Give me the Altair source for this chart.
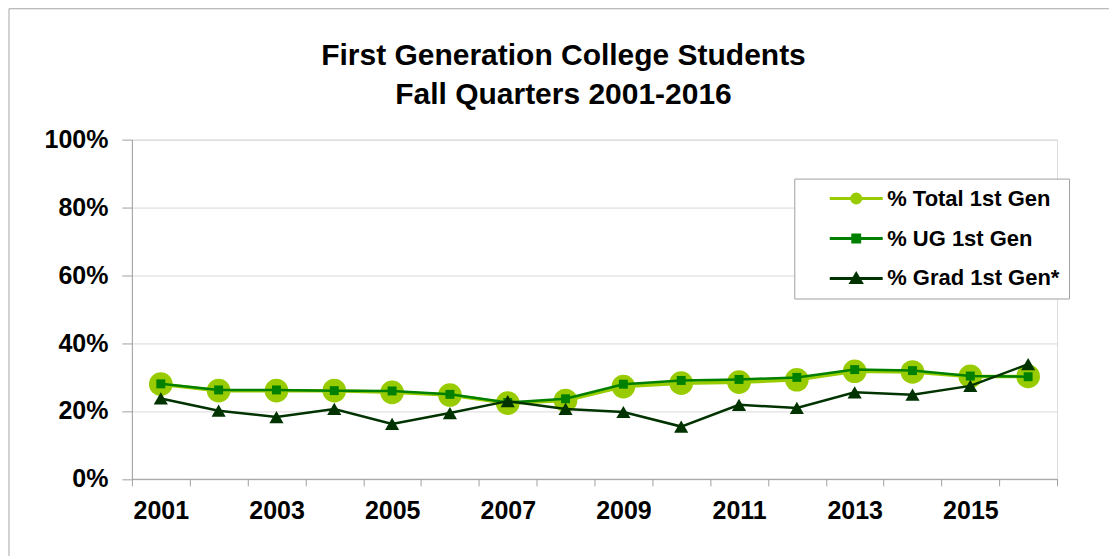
import altair as alt
import pandas as pd

years = list(range(2001, 2017))
total_pct = [27.9, 26.0, 26.0, 26.0, 25.5, 24.7, 22.3, 23.1, 27.2, 28.2, 28.5, 29.2, 31.7, 31.5, 30.2, 30.2]
ug_pct = [28.0, 26.2, 26.2, 26.0, 25.9, 24.9, 22.5, 23.6, 27.9, 29.0, 29.3, 29.9, 32.2, 31.9, 30.3, 30.1]
grad_pct = [23.7, 20.1, 18.2, 20.6, 16.2, 19.4, 22.9, 20.6, 19.7, 15.4, 21.8, 20.9, 25.5, 24.8, 27.4, 33.8]

series_names = ["% Total 1st Gen", "% UG 1st Gen", "% Grad 1st Gen*"]
series_colors = ["#99CC00", "#008000", "#003300"]
point_shapes = ["circle", "square", "triangle-up"]
point_sizes = [560, 80, 200]
line_widths = [3.5, 2.5, 2.5]
legend_paths = [
    "M-1,0L1,0M-0.17,0A0.17,0.17,0,1,0,0.17,0A0.17,0.17,0,1,0,-0.17,0Z",
    "M-1,0L1,0M-0.13,-0.13L0.13,-0.13L0.13,0.13L-0.13,0.13Z",
    "M-1,0L1,0M0,-0.17L0.19,0.15L-0.19,0.15Z",
]
label_years = [2001, 2003, 2005, 2007, 2009, 2011, 2013, 2015]
x_tick_values = [y - 0.5 for y in years] + [years[-1] + 0.5]
y_tick_values = [0, 0.2, 0.4, 0.6, 0.8, 1.0]
title_lines = ["First Generation College Students", "Fall Quarters 2001-2016"]

FONT = "Liberation Sans"

rows = []
for name, vals in zip(series_names, [total_pct, ug_pct, grad_pct]):
    for yr, v in zip(years, vals):
        rows.append({"year": yr, "value": v / 100.0, "series": name})
df = pd.DataFrame(rows)

label_list = ",".join(str(y) for y in label_years)
x_enc = alt.X(
    "year:Q",
    scale=alt.Scale(domain=[years[0] - 0.5, years[-1] + 0.5], nice=False, zero=False),
    axis=alt.Axis(
        values=x_tick_values,
        labelExpr=f"indexof([{label_list}], datum.value + 0.5) >= 0 ? format(datum.value + 0.5, 'd') : ''",
        labelOffset=29,
        labelFlush=False,
        labelOverlap=False,
        labelBound=False,
        grid=False,
        tickSize=7,
        labelPadding=13,
        labelFontSize=25,
        labelFont=FONT,
        labelFontWeight="bold",
        labelColor="black",
        domainColor="#A0A0A0",
        tickColor="#A0A0A0",
    ),
    title=None,
)
y_enc = alt.Y(
    "value:Q",
    scale=alt.Scale(domain=[0, 1], nice=False),
    axis=alt.Axis(
        values=y_tick_values,
        format="%",
        grid=True,
        gridColor="#D9D9D9",
        tickSize=10,
        labelPadding=14,
        labelFontSize=25,
        labelFont=FONT,
        labelFontWeight="bold",
        labelColor="black",
        domainColor="#A0A0A0",
        tickColor="#A0A0A0",
    ),
    title=None,
)

base = alt.Chart(df)
layers = []

# outer chart frame (only its left and top edges fall inside the picture)
frame = alt.Chart(pd.DataFrame({"f": [0]})).mark_rect(
    fill="white", fillOpacity=0, stroke="#A6A6A6", strokeWidth=1
).encode(
    x=alt.value(-123), x2=alt.value(1000), y=alt.value(-131), y2=alt.value(440)
)
layers.append(frame)

for name, col, shp, sz, lw in zip(series_names, series_colors, point_shapes, point_sizes, line_widths):
    sub = base.transform_filter(alt.datum.series == name)
    layers.append(sub.mark_line(strokeWidth=lw, color=col).encode(x=x_enc, y=y_enc))
    layers.append(
        sub.mark_point(filled=True, shape=shp, size=sz, color=col, opacity=1).encode(x=x_enc, y=y_enc)
    )

legend = alt.Legend(
    title=None,
    orient="none",
    legendX=663,
    legendY=39,
    fillColor="white",
    strokeColor="#A0A0A0",
    padding=9,
    symbolSize=2809,
    symbolStrokeWidth=3,
    symbolOpacity=1,
    symbolOffset=25,
    labelOffset=3,
    labelLimit=400,
    labelFontSize=22,
    labelFont=FONT,
    labelFontWeight="bold",
    labelColor="black",
    clipHeight=22,
    rowPadding=18,
)
dummy = base.transform_filter(alt.datum.year == years[0]).mark_point(
    filled=True, opacity=0
).encode(
    x=x_enc,
    y=y_enc,
    fill=alt.Fill("series:N", scale=alt.Scale(domain=series_names, range=series_colors), legend=legend, sort=series_names),
    stroke=alt.Stroke("series:N", scale=alt.Scale(domain=series_names, range=series_colors), legend=legend, sort=series_names),
    shape=alt.Shape("series:N", scale=alt.Scale(domain=series_names, range=legend_paths), legend=legend, sort=series_names),
)
layers.append(dummy)

chart = alt.layer(*layers).properties(
    width=926,
    height=339.5,
    title=alt.Title(
        title_lines,
        fontSize=30,
        font=FONT,
        fontWeight="bold",
        color="black",
        anchor="middle",
        dx=-31,
        dy=136,
        offset=34,
        lineHeight=39,
    ),
    autosize=alt.AutoSizeParams(type="none"),
    padding={"left": 124, "top": 131.5, "right": 52, "bottom": 77},
).configure_view(stroke=None).configure(background="white")

chart.save("out.html", embed_options={"renderer": "svg", "actions": False})
